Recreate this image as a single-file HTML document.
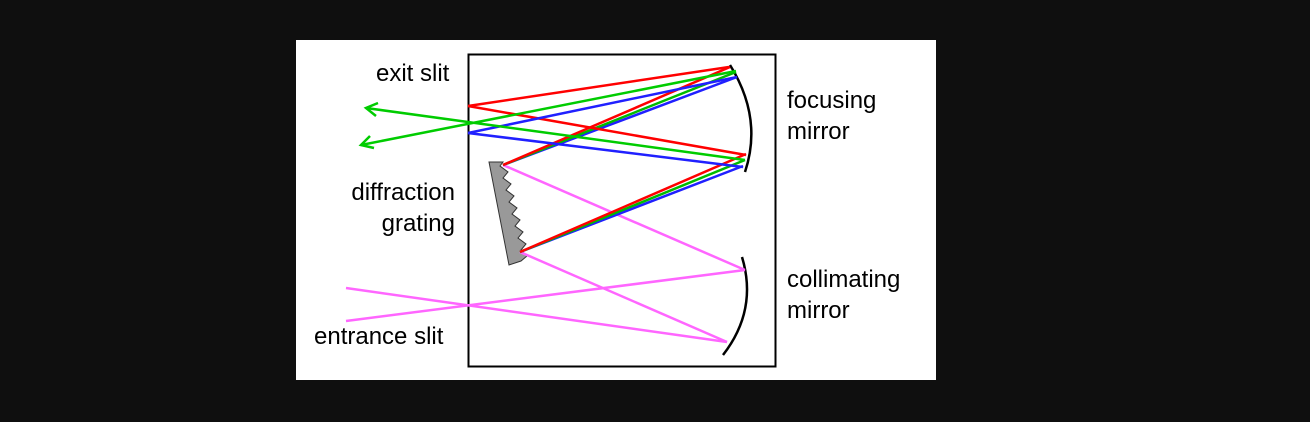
<!DOCTYPE html>
<html><head><style>
html,body{margin:0;padding:0;background:#0f0f0f;}
svg{display:block;}
text{font-family:"Liberation Sans",Arial,sans-serif;font-size:24px;fill:#000;}
</style></head><body>
<svg width="1310" height="422" viewBox="0 0 1310 422">
<rect x="0" y="0" width="1310" height="422" fill="#0f0f0f"/>
<rect x="296" y="40" width="640" height="340" fill="#fff"/>
<rect x="468.5" y="54.5" width="307" height="312" fill="none" stroke="#000" stroke-width="2"/>
<path d="M730,65 Q763,118 745,172" fill="none" stroke="#000" stroke-width="2.5"/>
<path d="M742,257 Q758,310 723,355" fill="none" stroke="#000" stroke-width="2.5"/>
<polygon points="489,162 503,162 500,166 508,172 503,178 511,184 506,190 514,196 509,202 517,208 512,214 520,220 515,226 523,232 518,238 526,244 521,250 527,256 521,261 509,265" fill="#999" stroke="#333" stroke-width="1"/>
<g fill="none" stroke-width="2.5">
<g stroke="#ff66ff">
<line x1="503" y1="165" x2="745" y2="270"/>
<line x1="520" y1="252" x2="727" y2="342"/>
<line x1="346" y1="288" x2="727" y2="342"/>
<line x1="346" y1="321" x2="745" y2="270"/>
</g>
<line x1="503" y1="165" x2="737" y2="77" stroke="#2020ff"/>
<line x1="503" y1="165" x2="736" y2="72" stroke="#00bb00"/>
<line x1="503" y1="165" x2="730" y2="67" stroke="#ff0000"/>
<line x1="520" y1="252" x2="743" y2="166" stroke="#2020ff"/>
<line x1="520" y1="252" x2="745" y2="160" stroke="#00bb00"/>
<line x1="520" y1="252" x2="746" y2="154" stroke="#ff0000"/>
<line x1="468" y1="106" x2="729" y2="67" stroke="#ff0000"/>
<line x1="468" y1="106" x2="746" y2="155" stroke="#ff0000"/>
<line x1="468" y1="133" x2="737" y2="77" stroke="#2020ff"/>
<line x1="468" y1="133" x2="743" y2="167" stroke="#2020ff"/>
<g stroke="#00cc00">
<line x1="736" y1="71" x2="361" y2="145"/>
<line x1="745" y1="160" x2="366" y2="108"/>
<polyline points="378,103 366,108 376,116"/>
<polyline points="370,136 361,145 374,148"/>
</g>
</g>
<text x="376" y="81">exit slit</text>
<text x="787" y="108">focusing</text>
<text x="787" y="139">mirror</text>
<text x="455" y="200" text-anchor="end">diffraction</text>
<text x="455" y="231" text-anchor="end">grating</text>
<text x="787" y="287">collimating</text>
<text x="787" y="318">mirror</text>
<text x="314" y="344">entrance slit</text>
</svg>
</body></html>
